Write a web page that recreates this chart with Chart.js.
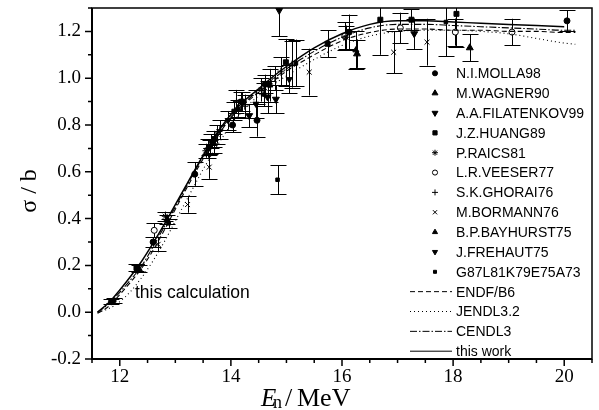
<!DOCTYPE html>
<html>
<head>
<meta charset="utf-8">
<script src="https://cdn.jsdelivr.net/npm/chart.js@4.4.1/dist/chart.umd.min.js"></script>
<style>
  html, body { margin: 0; padding: 0; background: #fff; }
  #wrap { width: 599px; height: 410px; }
</style>
</head>
<body>
<div id="wrap"><canvas id="xsChart" width="599" height="410"></canvas></div>
<script>
// Axis ticks
const xMajor = [12, 14, 16, 18, 20];
const yMajor = [-0.2, 0.0, 0.2, 0.4, 0.6, 0.8, 1.0, 1.2];

// Evaluated curves (energy in MeV, cross section in b)
const curveE   = [11.6, 11.8, 12.0, 12.2, 12.4, 12.6, 12.8, 13.0, 13.25, 13.5, 13.75, 14.0, 14.25, 14.5, 14.75, 15.0, 15.5, 16.0, 16.5, 17.0, 17.5, 18.0, 18.5, 19.0, 19.5, 20.0, 20.2];
const endfB6   = [-0.005, 0.025, 0.075, 0.13, 0.19, 0.265, 0.35, 0.44, 0.55, 0.655, 0.75, 0.83, 0.89, 0.94, 0.985, 1.03, 1.10, 1.16, 1.195, 1.21, 1.21, 1.205, 1.205, 1.20, 1.20, 1.195, 1.195];
const jendl32  = [0.0, 0.015, 0.045, 0.09, 0.15, 0.22, 0.30, 0.39, 0.50, 0.61, 0.71, 0.80, 0.87, 0.925, 0.97, 1.01, 1.08, 1.14, 1.18, 1.20, 1.205, 1.205, 1.20, 1.19, 1.17, 1.15, 1.145];
const cendl3   = [0.0, 0.035, 0.085, 0.14, 0.20, 0.28, 0.365, 0.45, 0.56, 0.665, 0.76, 0.835, 0.895, 0.95, 0.995, 1.04, 1.115, 1.175, 1.215, 1.23, 1.23, 1.225, 1.22, 1.215, 1.21, 1.205, 1.205];
const thisWork = [0.0, 0.04, 0.095, 0.155, 0.22, 0.295, 0.375, 0.46, 0.565, 0.67, 0.765, 0.845, 0.905, 0.955, 1.005, 1.05, 1.13, 1.19, 1.23, 1.245, 1.245, 1.24, 1.235, 1.23, 1.225, 1.22, null];

// Measurements: [E, sigma, error]
const molla98 = [[11.85, 0.045, 0.012], [12.60, 0.300, 0.020], [13.35, 0.590, 0.050], [14.03, 0.800, 0.030],
                 [14.47, 0.820, 0.070], [14.62, 0.975, 0.040], [16.13, 1.197, 0.075], [20.05, 1.245, 0.045]];
const wagner90 = [[12.85, 0.395, 0.020], [14.12, 0.870, 0.035], [16.27, 1.104, 0.060], [18.30, 1.130, 0.057]];
const filatenkov99 = [[13.62, 0.705, 0.030], [14.33, 0.840, 0.050], [14.66, 0.920, 0.070], [14.81, 0.910, 0.060],
                      [14.87, 1.290, 0.110], [17.30, 1.190, 0.065]];
const huang89 = [[12.30, 0.190, 0.015], [13.70, 0.740, 0.035], [14.20, 0.900, 0.040], [14.99, 1.068, 0.100],
                 [15.74, 1.147, 0.057], [16.69, 1.250, 0.150], [17.25, 1.250, 0.045], [18.06, 1.275, 0.140]];
const raics81 = [[12.82, 0.410, 0.020], [13.55, 0.690, 0.030], [13.75, 0.760, 0.040], [14.55, 0.950, 0.050], [16.07, 1.175, 0.050]];
const veeser77 = [[12.62, 0.350, 0.030], [16.05, 1.180, 0.060], [17.05, 1.215, 0.065], [18.04, 1.197, 0.058], [19.06, 1.197, 0.057]];
const ghorai76 = [[13.58, 0.700, 0.040], [13.80, 0.780, 0.040], [14.10, 0.900, 0.050], [14.25, 0.880, 0.050],
                  [14.80, 1.000, 0.050], [14.90, 1.030, 0.060], [15.10, 1.060, 0.100]];
const bormann76 = [[12.69, 0.290, 0.030], [13.22, 0.460, 0.035], [13.61, 0.620, 0.050], [15.41, 1.026, 0.100],
                   [16.93, 1.111, 0.090], [17.53, 1.154, 0.100]];
const bayhurst75 = [[12.35, 0.185, 0.015], [13.70, 0.720, 0.040], [14.70, 0.970, 0.070], [16.25, 1.120, 0.080]];
const frehaut75 = [[13.95, 0.820, 0.040], [14.18, 0.900, 0.040], [14.45, 0.890, 0.060], [15.05, 0.995, 0.060]];
const compiled = [[11.90, 0.050, 0.010], [12.88, 0.380, 0.020], [13.65, 0.730, 0.030], [14.05, 0.860, 0.040],
                  [14.60, 0.930, 0.050], [14.84, 0.566, 0.063], [15.17, 1.065, 0.100], [17.87, 1.240, 0.145]];

const serif = '"Liberation Serif", "Times New Roman", serif';
const sans = '"Liberation Sans", Arial, sans-serif';

// marker styles shared by plot and legend
const expSets = [
    { label: 'N.I.MOLLA98',      rows: molla98,      style: 'circle',   r: 3,   rot: 0,   fill: '#000' },
    { label: 'M.WAGNER90',       rows: wagner90,     style: 'triangle', r: 4,   rot: 0,   fill: '#000' },
    { label: 'A.A.FILATENKOV99', rows: filatenkov99, style: 'triangle', r: 4,   rot: 180, fill: '#000' },
    { label: 'J.Z.HUANG89',      rows: huang89,      style: 'rect',     r: 3.5, rot: 0,   fill: '#000' },
    { label: 'P.RAICS81',        rows: raics81,      style: 'star',     r: 3.5, rot: 0,   fill: '#000' },
    { label: 'L.R.VEESER77',     rows: veeser77,     style: 'circle',   r: 3,   rot: 0,   fill: '#fff' },
    { label: 'S.K.GHORAI76',     rows: ghorai76,     style: 'cross',    r: 3.5, rot: 0,   fill: '#000' },
    { label: 'M.BORMANN76',      rows: bormann76,    style: 'crossRot', r: 3.5, rot: 0,   fill: '#000' },
    { label: 'B.P.BAYHURST75',   rows: bayhurst75,   style: 'triangle', r: 3.5, rot: 0,   fill: '#000' },
    { label: 'J.FREHAUT75',      rows: frehaut75,    style: 'triangle', r: 3.5, rot: 180, fill: '#000' },
    { label: 'G87L81K79E75A73',  rows: compiled,     style: 'rect',     r: 2.5, rot: 0,   fill: '#000' }
];

const curveSets = [
    { label: 'ENDF/B6',   values: endfB6,   dash: [5, 3] },
    { label: 'JENDL3.2',  values: jendl32,  dash: [1, 3] },
    { label: 'CENDL3',    values: cendl3,   dash: [7, 2, 1.5, 2] },
    { label: 'this work', values: thisWork, dash: [] }
];

var datasets = [];
curveSets.forEach(function(c) {
    datasets.push({
        type: 'line',
        label: c.label,
        data: curveE.map((e, i) => ({ x: e, y: c.values[i] })).filter(p => p.y !== null),
        borderColor: '#000',
        borderWidth: c.dash.length ? 1.1 : 1.5,
        borderDash: c.dash,
        pointRadius: 0,
        fill: false,
        cubicInterpolationMode: 'monotone'
    });
});
expSets.forEach(function(s) {
    datasets.push({
        type: 'scatter',
        label: s.label,
        data: s.rows.map(r => ({ x: r[0], y: r[1] })),
        yErr: s.rows.map(r => r[2]),
        pointStyle: s.style,
        pointRadius: s.r,
        pointRotation: s.rot,
        pointBackgroundColor: s.fill,
        pointBorderColor: '#000',
        pointBorderWidth: 1,
        showLine: false
    });
});

// vertical error bars with caps, drawn under the markers
const errorBars = {
    id: 'errorBars',
    beforeDatasetsDraw(chart) {
        const ctx = chart.ctx, a = chart.chartArea;
        const xs = chart.scales.x, ys = chart.scales.y;
        ctx.save();
        ctx.beginPath();
        ctx.rect(a.left, a.top, a.right - a.left, a.bottom - a.top);
        ctx.clip();
        ctx.strokeStyle = '#000';
        ctx.lineWidth = 1;
        chart.data.datasets.forEach(function(ds) {
            if (!ds.yErr) return;
            ds.data.forEach(function(p, i) {
                const px = Math.round(xs.getPixelForValue(p.x)) + 0.5;
                const top = ys.getPixelForValue(p.y + ds.yErr[i]);
                const bot = ys.getPixelForValue(p.y - ds.yErr[i]);
                ctx.beginPath();
                ctx.moveTo(px, top); ctx.lineTo(px, bot);
                ctx.moveTo(px - 8, Math.round(top) + 0.5); ctx.lineTo(px + 8, Math.round(top) + 0.5);
                ctx.moveTo(px - 8, Math.round(bot) + 0.5); ctx.lineTo(px + 8, Math.round(bot) + 0.5);
                ctx.stroke();
            });
        });
        ctx.restore();
    }
};

function drawMarker(ctx, s, x, y) {
    if (Chart.helpers && Chart.helpers.drawPoint) {
        ctx.fillStyle = s.fill;
        ctx.strokeStyle = '#000';
        ctx.lineWidth = 1;
        Chart.helpers.drawPoint(ctx, { pointStyle: s.style, radius: s.r * 0.85, rotation: s.rot, borderWidth: 1 }, x, y);
    }
}

// frame, minor ticks, axis titles, legend and annotation
const decorations = {
    id: 'decorations',
    afterDraw(chart) {
        const ctx = chart.ctx, a = chart.chartArea;
        const xs = chart.scales.x, ys = chart.scales.y;
        ctx.save();
        ctx.strokeStyle = '#000';

        // frame
        ctx.lineWidth = 1.5;
        ctx.strokeRect(a.left, a.top, a.right - a.left, a.bottom - a.top);
        ctx.lineWidth = 2;
        ctx.beginPath();
        ctx.moveTo(a.left, a.top); ctx.lineTo(a.left, a.bottom); ctx.lineTo(a.right, a.bottom);
        ctx.stroke();

        // tick marks, outward
        ctx.lineWidth = 1.5;
        ctx.beginPath();
        for (let v = 11.5; v <= 20.5001; v += 0.5) {
            const px = xs.getPixelForValue(v);
            const len = Math.abs(v - Math.round(v)) < 1e-6 && Math.round(v) % 2 === 0 ? 7 : 4;
            ctx.moveTo(px, a.bottom); ctx.lineTo(px, a.bottom + len);
        }
        for (let k = -2; k <= 13; k++) {
            const py = ys.getPixelForValue(k / 10);
            const len = k % 2 === 0 ? 7 : 4;
            ctx.moveTo(a.left, py); ctx.lineTo(a.left - len, py);
        }
        ctx.stroke();

        ctx.fillStyle = '#000';
        ctx.textBaseline = 'alphabetic';

        // x title: E_n / MeV
        ctx.font = 'italic 25px ' + serif;
        ctx.textAlign = 'left';
        ctx.fillText('E', 261, 406);
        ctx.font = '18px ' + serif;
        ctx.fillText('n', 273, 408);
        ctx.font = '26px ' + serif;
        ctx.fillText('/', 285, 406);
        ctx.fillText('MeV', 297, 406);

        // y title
        ctx.save();
        ctx.translate(36, 191);
        ctx.rotate(-Math.PI / 2);
        ctx.textAlign = 'center';
        ctx.font = '24px ' + serif;
        ctx.fillText('\u03c3 / b', 0, 0);
        ctx.restore();

        // annotation
        ctx.font = '17.5px ' + sans;
        ctx.textAlign = 'left';
        ctx.fillText('this calculation', 135, 298);

        // legend
        ctx.font = '14px ' + sans;
        ctx.textBaseline = 'middle';
        const rowY = 73.3, step = 19.85, textX = 456;
        expSets.forEach(function(s, i) {
            const y = rowY + i * step;
            drawMarker(ctx, s, 435, y);
            ctx.fillStyle = '#000';
            ctx.fillText(s.label, textX, y + 1);
        });
        curveSets.forEach(function(c, j) {
            const y = rowY + (expSets.length + j) * step;
            ctx.save();
            ctx.lineWidth = 1;
            ctx.setLineDash(c.dash);
            ctx.beginPath();
            ctx.moveTo(410, y); ctx.lineTo(452, y);
            ctx.stroke();
            ctx.restore();
            ctx.fillText(c.label, textX, y + 1);
        });
        ctx.restore();
    }
};

new Chart(document.getElementById('xsChart'), {
    type: 'scatter',
    data: { datasets: datasets },
    options: {
        responsive: false,
        animation: false,
        layout: { padding: { top: 8, right: 7, left: 0, bottom: 0 } },
        plugins: {
            legend: { display: false },
            tooltip: { enabled: false }
        },
        scales: {
            x: {
                type: 'linear',
                min: 11.5,
                max: 20.5,
                afterBuildTicks: s => { s.ticks = xMajor.map(v => ({ value: v })); },
                afterFit: s => { s.height = 51; s.paddingLeft = 0; s.paddingRight = 0; },
                grid: { display: false, drawTicks: false },
                border: { display: false },
                ticks: {
                    color: '#000',
                    padding: 7,
                    maxRotation: 0,
                    font: { family: serif, size: 19 },
                    callback: v => String(v)
                }
            },
            y: {
                type: 'linear',
                min: -0.2,
                max: 1.3,
                afterBuildTicks: s => { s.ticks = yMajor.map(v => ({ value: v })); },
                afterFit: s => { s.width = 92; s.paddingTop = 0; s.paddingBottom = 0; },
                grid: { display: false, drawTicks: false },
                border: { display: false },
                ticks: {
                    color: '#000',
                    padding: 11,
                    font: { family: serif, size: 19 },
                    callback: v => v.toFixed(1)
                }
            }
        }
    },
    plugins: [errorBars, decorations]
});
</script>
</body>
</html>
